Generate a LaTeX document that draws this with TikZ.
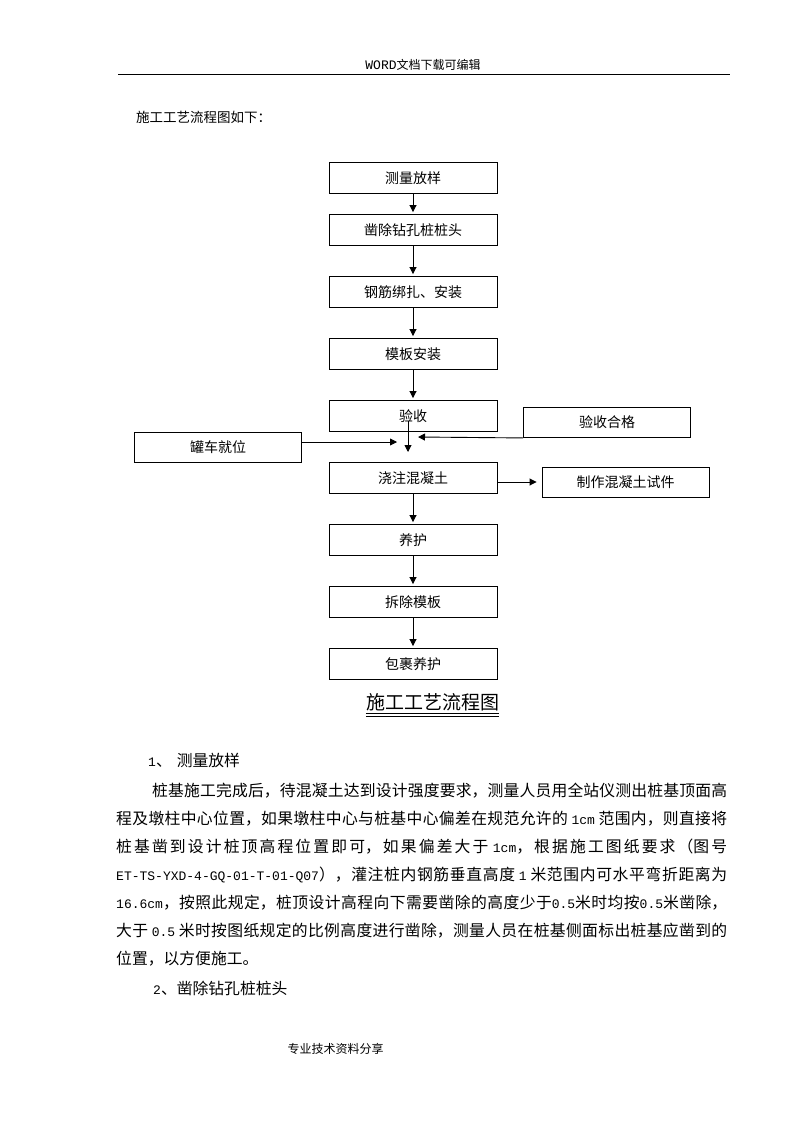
\documentclass[tikz,border=0pt]{standalone}
\usepackage{fontspec}
\setmainfont{Noto Sans CJK SC}
\newfontfamily\latfont{Liberation Mono}
\usepackage{tikz}
\usetikzlibrary{positioning,arrows.meta}
\XeTeXlinebreaklocale "zh"
\XeTeXlinebreakskip=0pt plus 4pt
\newcommand\lat[1]{{\latfont\fontsize{13pt}{15pt}\selectfont #1}}
\newcommand\bodyfont{\fontsize{15.8pt}{20pt}\selectfont}

\begin{document}
\begin{tikzpicture}[x=1pt,y=-1pt,node distance=62pt,on grid,
    box/.style={draw,line width=0.9pt,minimum width=168pt,minimum height=31pt,inner sep=0pt,font=\fontsize{14pt}{16pt}\selectfont},
    sidebox/.style={box,minimum width=167pt,minimum height=30pt},
    txt/.style={inner sep=0pt,anchor=base west,font=\bodyfont},
    just/.style={txt,text width=611pt,align=justify},
    tip/.style={-{Triangle[length=7pt,width=7pt]},line width=0.9pt}]
           \useasboundingbox (0,0) rectangle (794,1123);
           \fill[white] (0,0) rectangle (794,1123);
           \node[anchor=base,inner sep=0pt,font=\fontsize{12pt}{14pt}\selectfont] (h_0) at (423,69.5) {{\latfont\fontsize{13pt}{14pt}\selectfont WORD}文档下载可编辑};
           \coordinate (r_0) at (118,74);
           \coordinate (r_1) at (730,74);
           \draw[line width=0.9pt] (r_0) -- (r_1);
           \node[txt,font=\fontsize{13.5pt}{16pt}\selectfont] (t_intro) at (136,123) {施工工艺流程图如下：};
           \node[box] (p_0) at (413,178) {测量放样};
           \node[box] (p_1) [below=52pt of p_0] {凿除钻孔桩桩头};
           \node[box] (p_2) [below=of p_1] {钢筋绑扎、安装};
           \node[box] (p_3) [below=of p_2] {模板安装};
           \node[box] (p_4) [below=of p_3] {验收};
           \node[box] (p_5) [below=of p_4] {浇注混凝土};
           \node[box] (p_6) [below=of p_5] {养护};
           \node[box] (p_7) [below=of p_6] {拆除模板};
           \node[box] (p_8) [below=of p_7] {包裹养护};
           \node[sidebox] (c_0) [below right=6.5pt and 194pt of p_4] {验收合格};
           \node[sidebox] (t_0) [below left=31pt and 195pt of p_4] {罐车就位};
           \node[sidebox] (m_0) [below right=4pt and 212.5pt of p_5] {制作混凝土试件};
           \coordinate (a_0) at ([xshift=-5pt,yshift=-5pt]p_4.center);
           \coordinate (j_0) at (408,452);
           \coordinate (j_1) at (397,442);
           \coordinate (j_2) at (418,437);
           \path[tip,shorten >=2pt]
            (p_0) edge (p_1)
            (p_1) edge (p_2)
            (p_2) edge (p_3)
            (p_3) edge (p_4)
            (p_5) edge (p_6)
            (p_6) edge (p_7)
            (p_7) edge (p_8)
            (p_5.east |- m_0.west) edge[shorten >=5pt] (m_0);
           \path[tip]
            (a_0) edge (j_0)
            ([yshift=5pt]t_0.east) edge (j_1)
            (c_0.south west) edge (j_2);
           \node[anchor=base,inner sep=0pt,font=\fontsize{19pt}{22pt}\selectfont] (cap) at (432.5,709) {施工工艺流程图};
           \draw[line width=0.8pt] ([yshift=-4.5pt]cap.base west) -- ([yshift=-4.5pt]cap.base east);
           \draw[line width=0.8pt] ([yshift=-7pt]cap.base west) -- ([yshift=-7pt]cap.base east);
           \node[txt] (b_0) at (148,766) {\lat{1}、\hspace{5pt}测量放样};
           \node[just,text width=575pt] (b_1) at (152,796) {\parfillskip=0pt 桩基施工完成后，待混凝土达到设计强度要求，测量人员用全站仪测出桩基顶面高\par};
           \node[just] (b_2) at (116,824) {\parfillskip=0pt 程及墩柱中心位置，如果墩柱中心与桩基中心偏差在规范允许的 \lat{1cm} 范围内，则直接将\par};
           \node[just] (b_3) at (116,852) {\parfillskip=0pt 桩基凿到设计桩顶高程位置即可，如果偏差大于 \lat{1cm}，根据施工图纸要求（图号\par};
           \node[just] (b_4) at (116,880) {\parfillskip=0pt \lat{ET-TS-YXD-4-GQ-01-T-01-Q07}），灌注桩内钢筋垂直高度 \lat{1} 米范围内可水平弯折距离为\par};
           \node[just] (b_5) at (116,908.5) {\parfillskip=0pt \lat{16.6cm}，按照此规定，桩顶设计高程向下需要凿除的高度少于\lat{0.5}米时均按\lat{0.5}米凿除，\par};
           \node[just] (b_6) at (116,936.5) {\parfillskip=0pt 大于 \lat{0.5} 米时按图纸规定的比例高度进行凿除，测量人员在桩基侧面标出桩基应凿到的\par};
           \node[txt] (b_7) at (116,964.5) {位置，以方便施工。};
           \node[txt] (b_8) at (153,994) {\lat{2}、凿除钻孔桩桩头};
           \node[anchor=base,inner sep=0pt,font=\fontsize{12pt}{14pt}\selectfont] (f_0) at (335.5,1053.5) {专业技术资料分享};
        \end{tikzpicture}
\end{document}
